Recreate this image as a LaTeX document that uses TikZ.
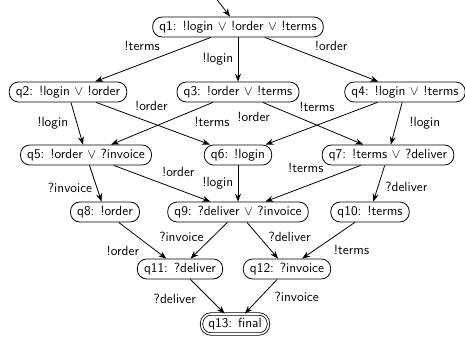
\documentclass[tikz,border=0pt]{standalone}
\usetikzlibrary{arrows.meta, positioning}

\begin{document}
\begin{tikzpicture}[
    x=0.75pt, y=-0.75pt,
    font=\sffamily,
    state/.style={rectangle, draw, semithick, rounded corners=7pt, minimum height=15pt, inner xsep=5pt, inner ysep=2pt},
    final/.style={state, double, double distance=1.2pt},
    arrow/.style={-{Stealth[length=6pt, width=4.5pt]}, semithick}
]
\useasboundingbox (0,0) rectangle (465,341);

% Start
\coordinate (init) at (215,-3);
\node[state] (q1) at (238,27) {q1: !login $\vee$ !order $\vee$ !terms};

% Second row
\node[state] (q2) at (68,92) {q2: !login $\vee$ !order};
\node[state] (q3) at (238,92) {q3: !order $\vee$ !terms};
\node[state] (q4) at (405,92) {q4: !login $\vee$ !terms};

% Third row
\node[state] (q5) at (86,155) {q5: !order $\vee$ ?invoice};
\node[state] (q6) at (238,155) {q6: !login};
\node[state] (q7) at (388,155) {q7: !terms $\vee$ ?deliver};

% Fourth row
\node[state] (q8) at (105,212) {q8: !order};
\node[state] (q9) at (238,212) {q9: ?deliver $\vee$ ?invoice};
\node[state] (q10) at (370,212) {q10: !terms};

% Fifth row
\node[state] (q11) at (180,269) {q11: ?deliver};
\node[state] (q12) at (287,269) {q12: ?invoice};

% Final state
\node[final] (q13) at (235,324) {q13: final};

% Arrows
\draw[arrow] (init) -- (q1);
\draw[arrow] (q1) -- node[pos=.4, above left] {!terms} (q2);
\draw[arrow] (q1) -- node[pos=.5, left] {!login} (q3);
\draw[arrow] (q1) -- node[pos=.4, above right] {!order} (q4);
\draw[arrow] (q2) -- node[pos=.5, left=3pt] {!login} (q5);
\draw[arrow] (q2) -- node[pos=.3, above right] {!order} (q6);
\draw[arrow] (q3) -- node[pos=.23, below right] {!terms} (q5);
\draw[arrow] (q3) -- node[pos=.12, below left] {!order} (q7);
\draw[arrow] (q4) -- node[pos=.34, above left] {!terms} (q6);
\draw[arrow] (q4) -- node[pos=.5, right=6pt] {!login} (q7);
\draw[arrow] (q5) -- node[pos=.62, left] {?invoice} (q8);
\draw[arrow] (q5) -- node[pos=.45, above right] {!order} (q9);
\draw[arrow] (q6) -- node[pos=.5, left] {!login} (q9);
\draw[arrow] (q7) -- node[pos=.34, above left] {!terms} (q9);
\draw[arrow] (q7) -- node[pos=.6, right=2pt] {?deliver} (q10);
\draw[arrow] (q8) -- node[pos=.53, below left] {!order} (q11);
\draw[arrow] (q9) -- node[pos=.41, left=3pt] {?invoice} (q11);
\draw[arrow] (q9) -- node[pos=.41, right=3pt] {?deliver} (q12);
\draw[arrow] (q10) -- node[pos=.49, below right] {!terms} (q12);
\draw[arrow] (q11) -- node[pos=.3, below left] {?deliver} (q13);
\draw[arrow] (q12) -- node[pos=.23, below right] {?invoice} (q13);

\end{tikzpicture}
\end{document}
